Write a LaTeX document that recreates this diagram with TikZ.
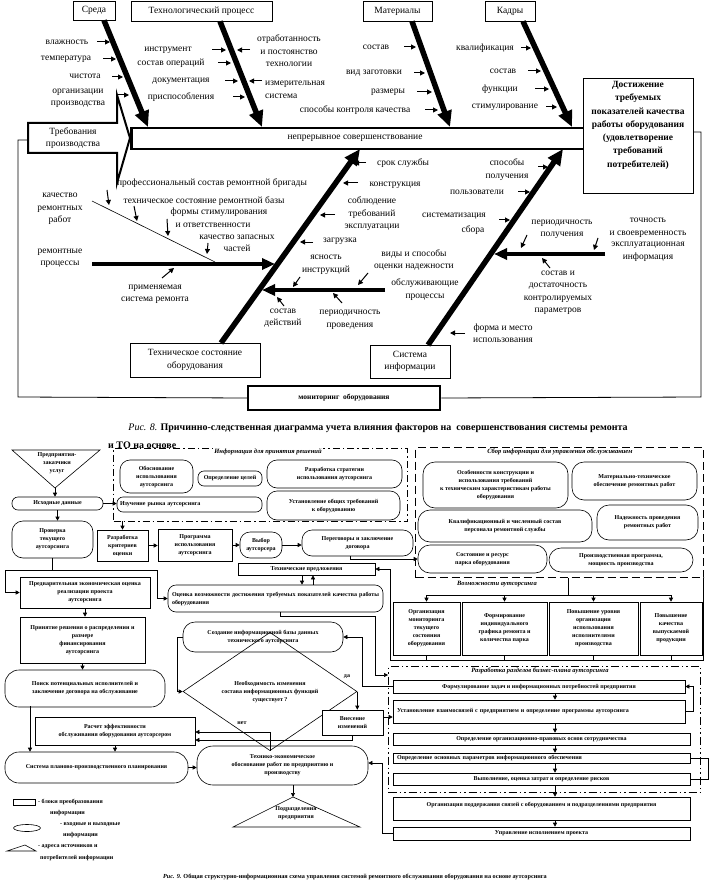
\documentclass[tikz,border=0pt]{standalone}
\usepackage{fontspec}
\setmainfont{Liberation Serif}
\usetikzlibrary{arrows.meta,shapes.geometric}
\newcommand\fa{\fontsize{9.5}{12.5}\selectfont}
\newcommand\fbb{\fontsize{6}{8}\selectfont\bfseries}
\newcommand\fitx{\fontsize{6.5}{8}\selectfont\bfseries\itshape}
\begin{document}
\begin{tikzpicture}[x=1pt,y=-1pt,
 lb/.style={font=\fa, inner sep=0pt, align=center},
 tb/.style={draw, line width=0.8pt, font=\fa, inner sep=0pt, align=center, fill=white},
 bone/.style={line width=5.5pt, -{Triangle[length=16pt,width=14pt]}},
 hbone/.style={line width=4pt, -{Triangle[length=13pt,width=11pt]}},
 sa/.style={line width=1pt, -{Triangle[length=5pt,width=5pt]}},
 blk/.style={draw, line width=0.6pt, font=\fbb, align=center, inner sep=1pt, fill=white},
 rnd/.style={blk, rounded corners=7pt},
 ar/.style={line width=0.6pt, -{Triangle[length=4pt,width=4pt]}},
 ln/.style={line width=0.6pt},
 ddot/.style={line width=1.3pt, dash pattern=on 7pt off 3pt on 1.5pt off 3pt},
 dddot/.style={line width=1.3pt, dash pattern=on 8pt off 3pt on 1.5pt off 3pt on 1.5pt off 3pt},
 dsh/.style={line width=1.3pt, dash pattern=on 8pt off 4pt},
 itl/.style={font=\fitx, inner sep=1pt, fill=white},
 sm/.style={font=\fbb, inner sep=0pt, align=center}
]
\useasboundingbox (0,0) rectangle (711,893);

% ================= Fig. 8 =================
\node[tb, minimum width=42, minimum height=19] (sreda) at (94,10.5) {Среда};
\node[tb, minimum width=141, minimum height=20] (tech) at (201.5,11) {Технологический процесс};
\node[tb, minimum width=69, minimum height=20] (mat) at (397.5,11) {Материалы};
\node[tb, minimum width=50, minimum height=20] (kad) at (510,11) {Кадры};

% frame
\node[draw, line width=2.5pt, minimum width=192, minimum height=24, inner sep=0pt,
      font=\fontsize{7.5}{9}\selectfont\bfseries, fill=white] (mon) at (344,398) {мониторинг\ \ оборудования};
\coordinate (fa1) at (28,140); \coordinate (fa2) at (18,140); \coordinate (fa3) at (18,397);
\coordinate (fb1) at (701,397); \coordinate (fb2) at (701,132); \coordinate (fb3) at (693,132);
\draw[line width=0.8pt] (fa1) -- (fa2) -- (fa3) -- (mon.west);
\draw[line width=0.8pt] (mon.east) -- (fb1) -- (fb2) -- (fb3);

% band
\node[draw, line width=2.5pt, minimum width=453, minimum height=21, inner sep=0pt, anchor=north west] (band) at (130,127) {};
\node[lb] (bandt) at (355,138) {непрерывное совершенствование};

% goal
\node[draw, line width=0.8pt, fill=white, minimum width=110, minimum height=115, anchor=north west, inner sep=0pt] (goal) at (583,78) {};
\node[font=\fontsize{9.5}{13.3}\selectfont\bfseries, align=center, anchor=north, inner sep=0pt] (goalt) at (638,81) {Достижение\\требуемых\\показателей качества\\работы оборудования\\(удовлетворение\\требований\\потребителей)};

% requirement arrow
\draw[line width=2pt, fill=white, line join=miter] (28,123) -- (117,123) -- (117,95) -- (130,138) -- (117,183) -- (117,153) -- (28,153) -- cycle;
\node[lb] (treb) at (73,138) {Требования\\производства};

% top bones
\coordinate (e1) at (148,127); \coordinate (e2) at (262,127); \coordinate (e3) at (450,127); \coordinate (e4) at (572,127);
\draw[bone] ([xshift=10pt]sreda.south) -- (e1);
\draw[bone] ([xshift=18.5pt]tech.south) -- (e2);
\draw[bone] ([xshift=14.5pt]mat.south) -- (e3);
\draw[bone] ([xshift=13pt]kad.south) -- (e4);

% bottom boxes and bones
\node[tb, minimum width=130, minimum height=34] (tso) at (195,360) {Техническое состояние\\оборудования};
\node[tb, minimum width=80, minimum height=33] (sinf) at (410,361.5) {Система\\информации};
\coordinate (s1) at (221,343); \coordinate (e5) at (360,149);
\coordinate (s2) at (428,345); \coordinate (e6) at (563,149);
\draw[bone] (s1) -- (e5);
\draw[bone] (s2) -- (e6);

% Sreda labels
\node[lb] (l1) at (67,42) {влажность}; \draw[sa] (97,42) -- (110,42);
\node[lb] (l2) at (66,59) {температура}; \draw[sa] (103,59) -- (116,59);
\node[lb] (l3) at (85,76) {чистота}; \draw[sa] (112,77) -- (123,77);
\node[lb] (l4) at (78,98.5) {организации\\производства}; \draw[sa] (118,95) -- (129,95);
% Tech labels
\node[lb] (l5) at (168,50) {инструмент}; \draw[sa] (212,50) -- (226,50);
\node[lb] (l6) at (289,51) {отработанность\\и постоянство\\технологии}; \draw[sa] (250,50) -- (237,50);
\node[lb] (l7) at (171,63) {состав операций}; \draw[sa] (218,63) -- (231,63);
\node[lb] (l8) at (181,81) {документация}; \draw[sa] (225,81) -- (238,81);
\node[lb, anchor=west, align=left] (l9) at (265,90) {измерительная\\система}; \draw[sa] (262,81) -- (249,81);
\node[lb] (l10) at (181,97) {приспособления}; \draw[sa] (233,97) -- (245,97);
\node[lb] (l11) at (355,110) {способы контроля качества}; \draw[sa] (425,110) -- (438,110);
% Materials
\node[lb] (l12) at (376,47) {состав}; \draw[sa] (404,47) -- (416,47);
\node[lb] (l13) at (374,73) {вид заготовки}; \draw[sa] (414,73) -- (425,73);
\node[lb] (l14) at (388,92) {размеры}; \draw[sa] (417,92) -- (432,92);
% Kadry
\node[lb] (l15) at (485,48) {квалификация}; \draw[sa] (521,48) -- (531,48);
\node[lb] (l16) at (503,71) {состав}; \draw[sa] (528,71) -- (541,71);
\node[lb] (l17) at (500,89) {функции}; \draw[sa] (535,89) -- (549,89);
\node[lb] (l18) at (505,107) {стимулирование}; \draw[sa] (546,107) -- (557,107);

% Tech state bone labels
\node[lb] (l19) at (403,163) {срок службы}; \draw[sa] (366,163) -- (354,163);
\node[lb] (l20) at (395,185) {конструкция}; \draw[sa] (358,183) -- (343,183);
\node[lb] (l21) at (372,214) {соблюдение\\требований\\эксплуатации}; \draw[sa] (335,215) -- (320,215);
\node[lb] (l22) at (340,241) {загрузка}; \draw[sa] (313,242) -- (300,242);
\node[lb] (l23) at (326,265) {ясность\\инструкций}; \draw[sa] (300,277) -- (293,287);
\node[lb] (l24) at (425,289.5) {обслуживающие\\процессы};
\coordinate (h2a) at (385,290); \coordinate (h2b) at (262,290);
\draw[hbone] (h2a) -- (h2b);
\node[lb] (l25) at (414,260) {виды и способы\\оценки надежности}; \draw[sa] (368,273) -- (358,285);
\node[lb] (l26) at (283,318) {состав\\действий}; \draw[sa] (284,306) -- (277,297);
\node[lb] (l27) at (350,320) {периодичность\\проведения}; \draw[sa] (342,303) -- (333,293);

% left side
\node[lb] (l28) at (60,209) {качество\\ремонтных\\работ};
\node[lb] (l29) at (60,258.5) {ремонтные\\процессы};
\coordinate (h1a) at (92,264); \coordinate (h1b) at (275,264);
\draw[hbone] (h1a) -- (h1b);
\coordinate (q1) at (92,201); \coordinate (q2) at (215,262);
\draw[line width=0.6pt] (q1) -- (q2);
\node[lb] (l30) at (212,183) {профессиональный состав ремонтной бригады}; \draw[sa] (107,190) -- (109,205);
\node[lb] (l31) at (204,201) {техническое состояние ремонтной базы}; \draw[sa] (134,206) -- (137,221);
\node[lb] (l32) at (219,212) {формы стимулирования};
\node[lb] (l33) at (213,225) {и ответственности}; \draw[sa] (167,219) -- (168,236);
\node[lb] (l34) at (237,243.5) {качество запасных\\частей}; \draw[sa] (208,243) -- (207,254);
\node[lb] (l35) at (155,294.5) {применяемая\\система ремонта}; \draw[sa] (162,278) -- (174,268);

% info system labels
\node[lb] (l36) at (507,169.5) {способы\\получения}; \draw[sa] (538,167) -- (548,167);
\node[lb] (l37) at (477,192) {пользователи}; \draw[sa] (518,192) -- (530,192);
\node[lb] (l38) at (454,216) {систематизация};
\node[lb] (l39) at (473,230) {сбора}; \draw[sa] (499,220) -- (510,220);
\node[lb] (l40) at (562,229.5) {периодичность\\получения}; \draw[sa] (527,235) -- (521,248);
\node[lb] (l41) at (648,228) {точность\\и своевременность}; \draw[sa] (598,238) -- (594,250);
\node[lb] (l42) at (648,252) {эксплуатационная\\информация};
\coordinate (h3a) at (605,254); \coordinate (h3b) at (494,254);
\draw[hbone] (h3a) -- (h3b);
\node[lb] (l43) at (558,293) {состав и\\достаточность\\контролируемых\\параметров}; \draw[sa] (550,268) -- (542,258);
\node[lb] (l44) at (503,333) {форма и место\\использования}; \draw[sa] (465,333) -- (450,333);

% caption 8
\node[font=\fontsize{10}{12}\selectfont, inner sep=0pt] (cap8) at (378,428) {\textit{Рис. 8.} \textbf{Причинно-следственная диаграмма учета влияния факторов на\ \ совершенствования системы ремонта}};
\node[font=\fontsize{10}{12}\selectfont\bfseries, anchor=west, inner sep=0pt] (cap8b) at (108,445) {и ТО на основе};

% ================= Fig. 9 =================
% frames
\node[draw, ddot, minimum width=294, minimum height=73, anchor=north west, inner sep=0pt] (infF) at (113,448) {};
\node[itl] (infL) at (268,452) {Информация для принятия решений};
\node[draw, dsh, minimum width=288, minimum height=130, anchor=north west, inner sep=0pt] (sbF) at (415,447) {};
\node[itl] (sbL) at (560,452) {Сбор информации для управления обслуживанием};

% top-left
\coordinate (t1) at (12,450); \coordinate (t2) at (100,450); \coordinate (triv) at (55,488);
\draw[ln] (t1) -- (t2) -- (triv) -- cycle;
\node[sm] (zak) at (57,463) {Предприятия-\\заказчики\\услуг};
\node[rnd, rounded corners=6pt, minimum width=91, minimum height=13] (ish) at (57.5,503.5) {Исходные данные};
\node[rnd, rounded corners=11pt, minimum width=81, minimum height=37] (prov) at (52.5,539.5) {Проверка\\текущего\\аутсорсинга};
\node[blk, minimum width=130, minimum height=31] (pre) at (85,592.5) {Предварительная экономическая оценка\\реализации проекта\\аутсорсинга};
\node[blk, minimum width=125, minimum height=46] (resh) at (82.5,640) {Принятие решения о распределении и\\размере\\финансирования\\аутсорсинга};
\node[rnd, rounded corners=14pt, minimum width=160, minimum height=37] (poisk) at (85,688.5) {Поиск потенциальных исполнителей и\\заключение договора на обслуживание};
\node[blk, minimum width=160, minimum height=28] (rasch) at (115,731) {Расчет эффективности\\обслуживания оборудования аутсорсером};
\node[rnd, rounded corners=14pt, minimum width=183, minimum height=31] (sys) at (96.5,767.5) {Система планово-производственного планирования};
\node[rnd, rounded corners=16pt, minimum width=171, minimum height=39] (tek) at (282.5,765.5) {Технико-экономическое\\обоснование работ по предприятию и\\производству};
\coordinate (papex) at (293,797); \coordinate (pb1) at (233,827); \coordinate (pb2) at (360,827);
\draw[ln] (papex) -- (pb2) -- (pb1) -- cycle;
\node[sm] (podr) at (296,813) {Подразделения\\предприятия};

% info box content
\node[rnd, rounded corners=10pt, minimum width=73, minimum height=33] (obos) at (156.5,476.5) {Обоснование\\использования\\аутсорсинга};
\node[rnd, rounded corners=6pt, minimum width=64, minimum height=15] (opr) at (230,478.5) {Определение целей};
\node[rnd, rounded corners=10pt, minimum width=135, minimum height=28] (razr) at (334.5,474) {Разработка стратегии\\использования аутсорсинга};
\node[rnd, rounded corners=6pt, minimum height=15, text width=139, align=left, inner xsep=3pt] (izuch) at (189.5,504.5) {Изучение рынка аутсорсинга};
\node[rnd, rounded corners=10pt, minimum width=133, minimum height=29] (ustan) at (333.5,505.5) {Установление общих требований\\к оборудованию};

% row
\node[blk, minimum width=51, minimum height=31] (krit) at (122.5,545.5) {Разработка\\критериев\\оценки};
\node[blk, minimum width=74, minimum height=32] (prog) at (195,545) {Программа\\использования\\аутсорсинга};
\node[rnd, rounded corners=10pt, minimum width=42, minimum height=26] (vyb) at (261,545) {Выбор\\аутсорсера};
\node[rnd, rounded corners=10pt, minimum width=111, minimum height=26] (perg) at (357.5,543) {Переговоры и заключение\\договора};
\node[blk, minimum width=137, minimum height=12] (techpr) at (306.5,569) {Технические предложения};
\node[rnd, rounded corners=8pt, minimum height=27, text width=207, align=justify, inner xsep=4pt] (ocen) at (275.5,598.5) {Оценка возможности достижения требуемых показателей качества работы оборудования};
\node[rnd, rounded corners=12pt, minimum width=160, minimum height=30] (sozd) at (263,637) {Создание информационной базы данных\\технического аутсорсинга};
\node[diamond, draw, line width=0.6pt, minimum width=174, minimum height=73, inner sep=0pt, font=\fbb, align=center] (diam) at (270,691.5) {Необходимость изменения\\состава информационных функций\\существует ?};
\node[blk, minimum width=61, minimum height=25] (vnes) at (352.5,722.5) {Внесение\\изменений};
\node[sm] (da) at (347,677) {да};
\node[sm] (net) at (242,723) {нет};

% collection box content
\node[rnd, rounded corners=12pt, minimum width=145, minimum height=46] (s1n) at (495.5,485) {Особенности конструкции и\\использования требований\\к техническим характеристикам работы\\оборудования};
\node[rnd, rounded corners=12pt, minimum width=125, minimum height=38] (s2n) at (634.5,481) {Материально-техническое\\обеспечение ремонтных работ};
\node[rnd, rounded corners=12pt, minimum width=174, minimum height=32] (s3n) at (505,526) {Квалификационный и численный состав\\персонала ремонтной службы};
\node[rnd, rounded corners=12pt, minimum width=101, minimum height=35] (s4n) at (647.5,522.5) {Надежность проведения\\ремонтных работ};
\node[rnd, rounded corners=12pt, minimum width=129, minimum height=28] (s5n) at (482.5,559) {Состояние и ресурс\\парка оборудования};
\node[rnd, rounded corners=12pt, minimum width=144, minimum height=24] (s6n) at (621,560) {Производственная программа,\\мощность производства};

% possibilities
\node[minimum width=313, minimum height=82, anchor=north west, inner sep=0pt] (vozm) at (390,578) {};
\draw[ln] (vozm.north west) -- (vozm.south west) -- (vozm.south east) -- (vozm.north east);
\node[itl] (vozmL) at (497,584) {Возможности аутсорсинга};
\node[blk, minimum width=67, minimum height=53] (v1) at (426.5,628.5) {Организация\\мониторинга\\текущего\\состояния\\оборудования};
\node[blk, minimum width=85, minimum height=53] (v2) at (504.5,628.5) {Формирование\\индивидуального\\графика ремонта и\\количества парка};
\node[blk, minimum width=89, minimum height=53] (v3) at (593.5,628.5) {Повышение уровня\\организации\\использования\\исполнителями\\производства};
\node[blk, minimum width=62, minimum height=53] (v4) at (671,628.5) {Повышение\\качества\\выпускаемой\\продукции};
\coordinate (vt) at (568,578); \coordinate (vm) at (568,595);
\draw[ln] (vt) -- (vm);
\draw[ln] (v1.north |- vm) -- (v4.north |- vm);
\foreach \n in {v1,v2,v3,v4} {
  \draw[ar] (\n.north |- vm) -- (\n.north);
  \draw[ln] (\n.south) -- (\n.south |- vozm.south);
}

% business plan frame
\node[draw, dddot, minimum width=312, minimum height=126, anchor=north west, inner sep=0pt] (razf) at (388,666) {};
\node[itl] (razL) at (540,671) {Разработка разделов бизнес-плана аутсорсинга};
\node[blk, minimum width=292, minimum height=13] (r1) at (539,686.5) {Формулирование задач и информационных потребностей предприятия};
\node[blk, minimum height=23, text width=284, align=left, inner xsep=4pt] (r2) at (539,711.5) {Установление взаимосвязей с предприятием и определение программы аутсорсинга};
\node[blk, minimum width=297, minimum height=12] (r3) at (541.5,739) {Определение организационно-правовых основ сотрудничества};
\node[blk, minimum height=10, text width=289, align=left, inner xsep=4pt, inner ysep=0.5pt] (r4) at (541.5,758) {Определение основных параметров информационного обеспечения};
\node[blk, minimum width=297, minimum height=12] (r5) at (541.5,779) {Выполнение, оценка затрат и определение рисков};
\node[blk, minimum width=297, minimum height=23] (r6) at (541.5,808.5) {Организация поддержания связей с оборудованием и подразделениями предприятия\\\phantom{X}};
\node[blk, minimum width=297, minimum height=13] (r7) at (541.5,833.5) {Управление исполнением проекта};
\draw[ar] ([xshift=16pt]r1.south) -- ([xshift=16pt]r1.south |- r2.north);
\draw[ar] ([xshift=16pt]r2.south) -- ([xshift=16pt]r2.south |- r3.north);
\draw[ar] ([xshift=13.5pt]r3.south) -- ([xshift=13.5pt]r3.south |- r4.north);
\draw[ar] ([xshift=13.5pt]r4.south) -- ([xshift=13.5pt]r4.south |- r5.north);
\draw[ar] ([xshift=13.5pt]r5.south) -- ([xshift=13.5pt]r5.south |- r6.north);
\draw[ar] ([xshift=13.5pt]r6.south) -- ([xshift=13.5pt]r6.south |- r7.north);
\draw[ar] (r2.east) -- ++(8,0) |- (r1.east);
\draw[ln] (r4.east) -- ++(18,0) |- (r5.east);

% connectors fig 9
\draw[ar] (triv) -- (triv |- ish.north);
\draw[ar] (ish.east) -- (ish.east -| izuch.west);
\draw[ar] (ish.south) -- (ish.south |- prov.north);
\coordinate (lA) at (5,570); \coordinate (rA) at (157,570);
\draw[ln] (prov.south) -- (prov.south |- lA);
\draw[ln] (lA) -- (rA);
\draw[ar] (lA) |- (pre.west);
\draw[ar] (rA) |- (ocen.west);
\draw[ar] (pre.south) -- (pre.south |- resh.north);
\draw[ar] (resh.south) -- (resh.south |- poisk.north);
\coordinate (pl) at (30,706);
\draw[ar] (pl) -- (pl |- sys.north);
\draw[ar] (rasch.south) -- (rasch.south |- sys.north);
\draw[ar] (sys.east) -- (sys.east -| tek.west);
\draw[ar] (tek.south -| papex) -- (papex);
\coordinate (ib) at (122.5,521);
\draw[ar] (ib) -- (krit.north);
\draw[ar] (krit.east) -- (krit.east -| prog.west);
\draw[ar] (prog.east) -- (prog.east -| vyb.west);
\draw[ar] (vyb.east) -- (vyb.east -| perg.west);
\draw[ar] ([xshift=-7pt]perg.south) |- (s5n.west);
\draw[ar] ([xshift=-4.5pt]techpr.south) -- ([xshift=-4.5pt]techpr.south |- ocen.north);
\draw[ar] ([xshift=6.5pt]techpr.south |- ocen.north) -- ([xshift=6.5pt]techpr.south);
\draw[ar] ([yshift=-22pt]vozm.north west) |- (techpr.east);
\draw[ar] (r1.west) -- ++(-30,0) |- (sozd.east);
\draw[ar] ([xshift=4.5pt]ocen.south) -- ++(0,4) -- ++(95,0) |- ([yshift=-9pt]razf.north west);
\draw[ar] (sozd.west) -- ++(-5,0) |- (diam.west);
\draw[ar] (diam.east) -- (diam.east |- vnes.north);
\draw[ar] (diam.south) |- ([yshift=-1pt]rasch.east);
\draw[ar] (vnes.south) |- ([yshift=-9pt]rasch.east);
\draw[ar] ([yshift=5.5pt]vnes.east) -- ([yshift=5.5pt]vnes.east -| r2.west);
\draw[ar] (r7.west) -- ++(-10,0) |- ([yshift=2.5pt]tek.east);

% legend
\node[draw, line width=0.6pt, minimum width=22, minimum height=6, inner sep=0pt] (lg1) at (24,802) {};
\node[sm, anchor=west] (lg1t) at (38,802) {- блоки преобразования};
\node[sm, anchor=west] (lg1u) at (50,813) {информации};
\node[ellipse, draw, line width=0.6pt, minimum width=27, minimum height=7, inner sep=0pt] (lg2) at (27,828) {};
\node[sm, anchor=west] (lg2t) at (60,825) {- входные и выходные};
\node[sm, anchor=west] (lg2u) at (63,835) {информации};
\coordinate (g1) at (7,851); \coordinate (g2) at (25,845); \coordinate (g3) at (36,851);
\draw[ln] (g1) -- (g2) -- (g3) -- cycle;
\node[sm, anchor=west] (lg3t) at (38,847) {- адреса источников и};
\node[sm, anchor=west] (lg3u) at (40,858) {потребителей информации};

% caption 9
\node[font=\fontsize{6.2}{7}\selectfont\bfseries, inner sep=0pt] (cap9) at (355,877) {\textit{Рис. 9.} Общая структурно-информационная схема управления системой ремонтного обслуживания оборудования на основе аутсорсинга};
\end{tikzpicture}
\end{document}
